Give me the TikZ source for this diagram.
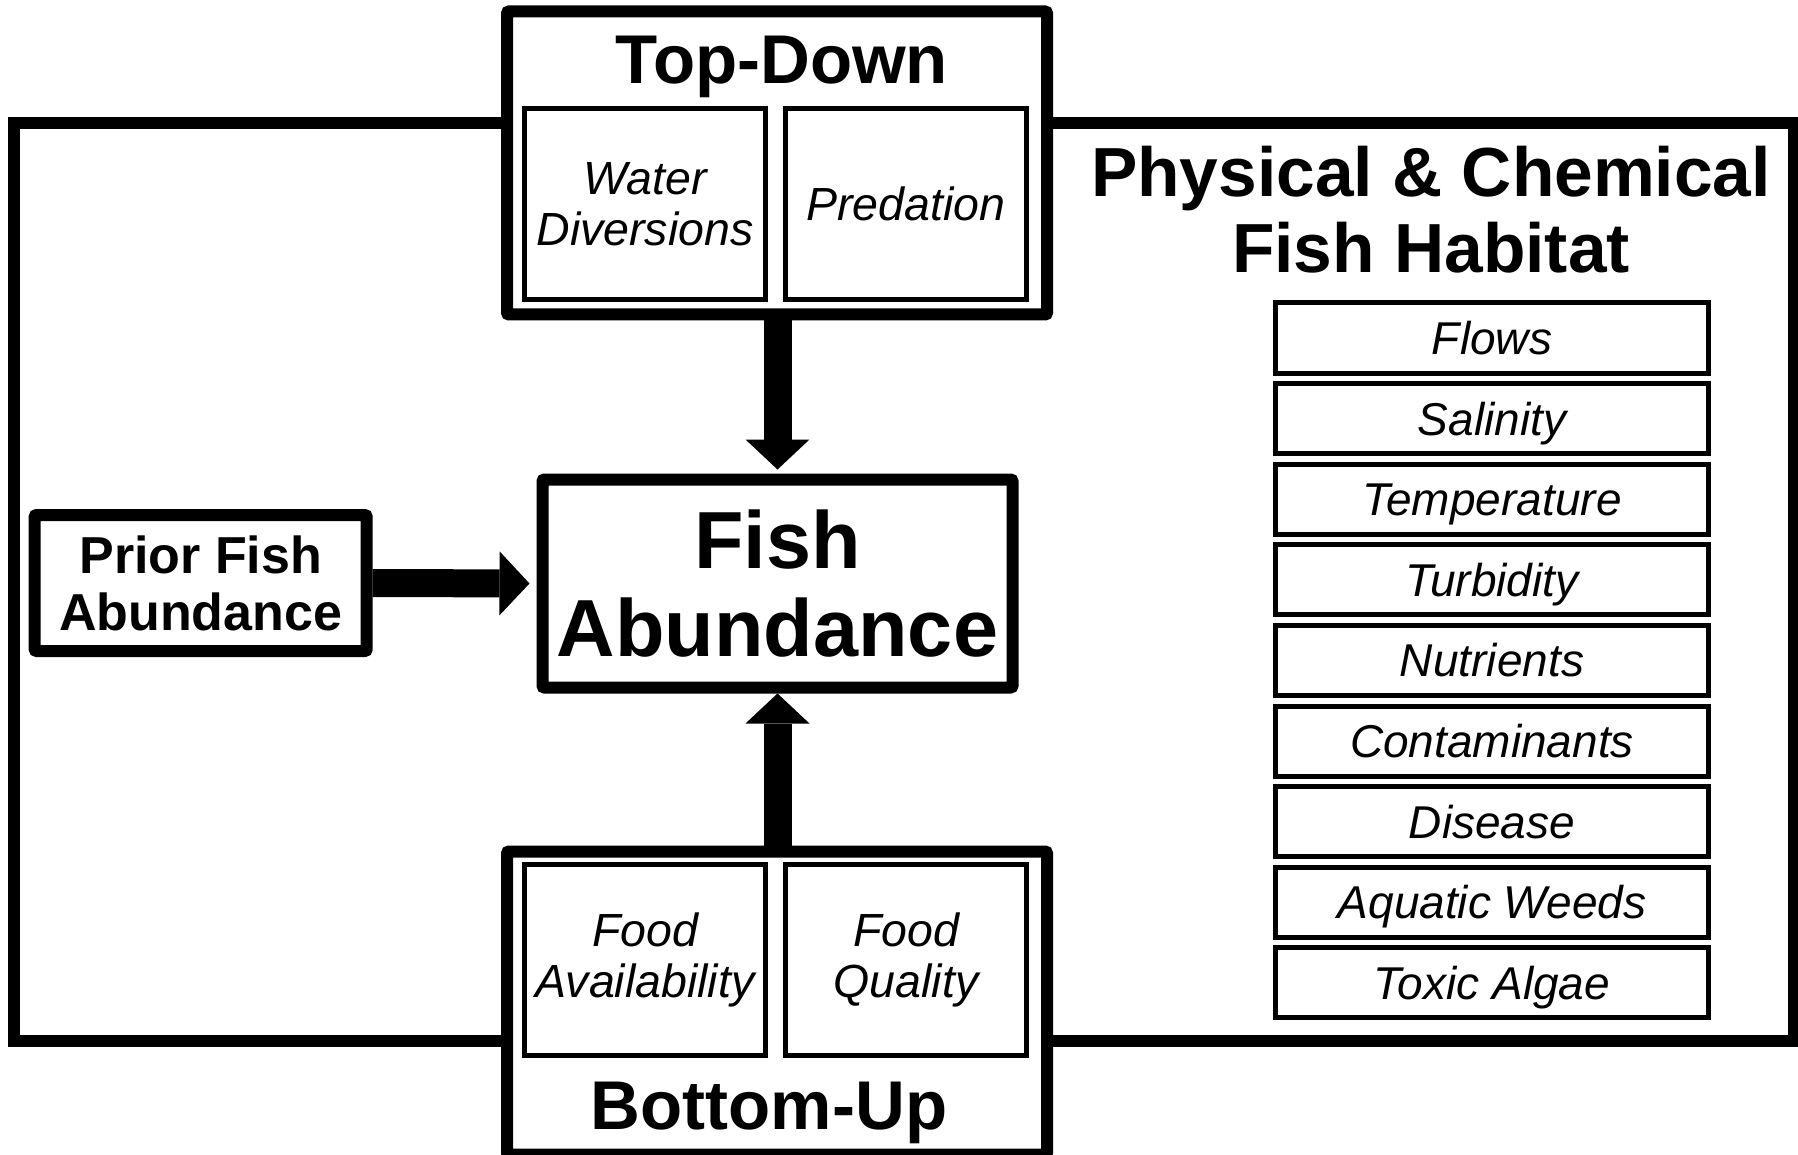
\documentclass[tikz,border=0pt]{standalone}
\usepackage{fontspec}
\setmainfont{Liberation Sans}
\usetikzlibrary{
  positioning,     % relative placement of the boxes
  arrows.meta      % big triangle arrow tips
}
\tikzset{
    x=1pt, y=-1pt,
    node distance=5.6pt and 15pt,
    every node/.style = {
        rectangle,
        draw,
        fill=white,
        align=center,
        inner sep=0pt
    },
    frame/.style = {line width=12pt, fill=none, minimum width=1780pt, minimum height=918pt},
    group/.style = {line width=12pt, rounded corners=2pt, minimum width=540pt, minimum height=303pt},
    factor/.style = {line width=5pt, minimum width=241pt, minimum height=191pt,
        font=\fontsize{46.5}{51}\selectfont\itshape},
    habitat/.style = {line width=5pt, minimum width=433pt, minimum height=70pt,
        text height=33pt, text depth=0pt,
        font=\fontsize{46}{50}\selectfont\itshape},
    heading/.style = {draw=none, fill=none, font=\fontsize{69}{75}\selectfont\bfseries},
    fish/.style = {line width=12pt, rounded corners=2pt, minimum width=470pt, minimum height=208pt,
        font=\fontsize{81}{88}\selectfont\bfseries},
    prior/.style = {line width=12pt, rounded corners=2pt, minimum width=332pt, minimum height=136pt,
        font=\fontsize{52}{57}\selectfont\bfseries},
    bigarrow/.style = {line width=28pt, -{Triangle[length=30pt, width=64pt, line width=0pt]}}
}

\begin{document}
\begin{tikzpicture}
  \useasboundingbox (0,0) rectangle (1798,1155);

  %% habitat frame
  \node [frame] (HF) at (904,582) {};

  %% Top-Down
  \node [group] (TD) at (777,163) {};
  \node [heading, anchor=base] (TDtext) at (782,84) {Top-Down};
  \node [factor] (WD) at (645,204) {Water\\Diversions};
  \node [factor, right=of WD] (PR) {Predation};

  %% Bottom-Up
  \node [group] (BU) at (777,1003) {};
  \node [heading, anchor=base] (BUtext) at (769,1129) {Bottom-Up};
  \node [factor] (FAV) at (645,960) {Food\\Availability};
  \node [factor, right=of FAV] (FQ) {Food\\Quality};

  %% Fish Abundance
  \node [fish] (FA) at (777.5,583.5) {Fish\\Abundance};
  \node [prior] (PFA) at (200.7,583) {Prior Fish\\Abundance};

  \draw [bigarrow, shorten >=4pt] (FA.north |- TD.south) to (FA.north);
  \draw [bigarrow] (FA.south |- BU.north) to (FA.south);
  \draw [bigarrow, shorten >=7pt] (PFA.east) to (FA.west);

  %% Physical & Chemical
  \node [heading, font=\fontsize{69.5}{76}\selectfont\bfseries] (PC) at (1431,210)
    {Physical \& Chemical\\Fish Habitat};

  \node [habitat] (FL) at (1492,338) {Flows};
  \node [habitat, below=of FL] (SA) {Salinity};
  \node [habitat, below=of SA] (TE) {Temperature};
  \node [habitat, below=of TE] (TU) {Turbidity};
  \node [habitat, below=of TU] (NU) {Nutrients};
  \node [habitat, below=of NU] (CO) {Contaminants};
  \node [habitat, below=of CO] (DI) {Disease};
  \node [habitat, below=of DI] (AW) {Aquatic Weeds};
  \node [habitat, below=of AW] (TA) {Toxic Algae};

\end{tikzpicture}
\end{document}
